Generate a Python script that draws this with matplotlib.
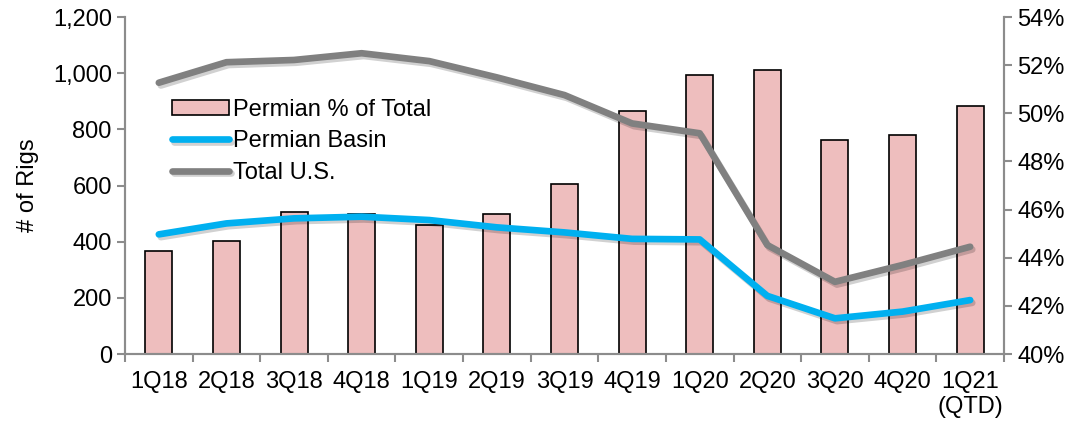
import matplotlib
matplotlib.use("Agg")
import matplotlib.pyplot as plt
import matplotlib.patheffects as pe
from matplotlib.ticker import FuncFormatter, FixedLocator
import numpy as np

plt.rcParams["font.family"] = ["Liberation Sans", "DejaVu Sans"]

quarters = ["1Q18", "2Q18", "3Q18", "4Q18", "1Q19", "2Q19", "3Q19", "4Q19",
            "1Q20", "2Q20", "3Q20", "4Q20", "1Q21\n(QTD)"]
permian_pct = [44.3, 44.7, 45.9, 45.8, 45.35, 45.8, 47.05, 50.1,
               51.6, 51.8, 48.9, 49.1, 50.3]
permian_rigs = [426, 465, 483, 489, 477, 451, 433, 410, 408, 207, 127, 151, 192]
total_rigs = [966, 1039, 1047, 1071, 1043, 985, 922, 821, 786, 388, 257, 317, 382]

x = np.arange(len(quarters))
fig = plt.figure(figsize=(10.74, 4.23), dpi=100)
ax = fig.add_axes([0.1164, 0.1631, 0.8184, 0.7967])
ax2 = ax.twinx()

pink = "#EEBEBE"
blue = "#00B0F0"
grey = "#808080"
spine_c = "#8C8C8C"
FS = 17

bars = ax2.bar(x, permian_pct, width=0.4, bottom=0, color=pink,
               edgecolor="black", linewidth=1.2, label="Permian % of Total")
ax2.set_ylim(40, 54)
ax2.set_yticks(np.arange(40, 55, 2))
ax2.yaxis.set_major_formatter(FuncFormatter(lambda v, p: f"{v:.0f}%"))

shadow = [pe.SimpleLineShadow(offset=(1.5, -2), alpha=0.18, shadow_color="black"), pe.Normal()]
l1, = ax.plot(x, permian_rigs, color=blue, lw=4.8, solid_capstyle="round",
              path_effects=shadow, label="Permian Basin")
l2, = ax.plot(x, total_rigs, color=grey, lw=4.8, solid_capstyle="round",
              path_effects=shadow, label="Total U.S.")
ax.set_zorder(ax2.get_zorder() + 1)
ax.patch.set_visible(False)

ax.set_ylim(0, 1200)
ax.set_yticks(range(0, 1201, 200))
ax.yaxis.set_major_formatter(FuncFormatter(lambda v, p: f"{v:,.0f}"))
ax.set_xlim(-0.5, len(x) - 0.5)
ax.xaxis.set_major_locator(FixedLocator(np.arange(-0.5, len(x), 1.0)))
ax.xaxis.set_minor_locator(FixedLocator(x))
ax.set_xticklabels([])
ax.set_xticklabels(quarters, minor=True)
ax.tick_params(axis="x", which="minor", length=0, labelsize=FS, pad=12)
ax.tick_params(axis="x", which="major", length=6, color=spine_c, width=1.5)
ax.tick_params(axis="y", labelsize=FS, length=6, color=spine_c, width=1.5)
ax2.tick_params(axis="y", labelsize=FS, length=6, color=spine_c, width=1.5)
ax.set_ylabel("# of Rigs", fontsize=FS, labelpad=10)

for a in (ax, ax2):
    a.spines["top"].set_visible(False)
    for s in ("left", "right", "bottom"):
        a.spines[s].set_color(spine_c)
        a.spines[s].set_linewidth(1.5)

ax.legend([bars, l1, l2], ["Permian % of Total", "Permian Basin", "Total U.S."],
          loc="upper left", bbox_to_anchor=(0.043, 0.785), frameon=False,
          fontsize=FS, handlelength=2.4, handleheight=0.65, handletextpad=0.17,
          labelspacing=0.4, borderaxespad=0)

fig.savefig("out.png", dpi=100)
